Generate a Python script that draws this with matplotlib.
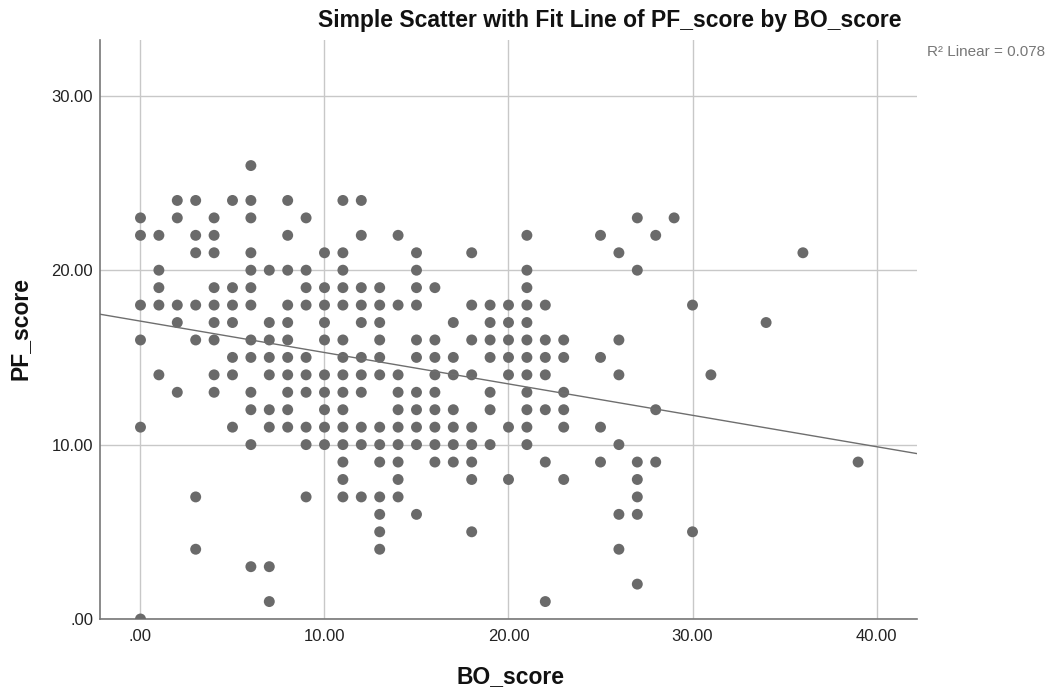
import numpy as np
import matplotlib
matplotlib.use("Agg")
from matplotlib import pyplot as plt

plt.rcParams['font.family'] = ['Liberation Sans', 'DejaVu Sans']

# PF_score values observed for each BO_score
bo_pf = {
    0: [23, 22, 18, 16, 11, 0],
    1: [22, 20, 19, 18, 14],
    2: [24, 23, 18, 17, 13],
    3: [24, 22, 21, 18, 16, 7, 4],
    4: [23, 22, 21, 19, 18, 17, 16, 14, 13],
    5: [24, 19, 18, 17, 15, 14, 11],
    6: [26, 24, 23, 21, 20, 19, 18, 16, 15, 13, 12, 10, 3],
    7: [20, 17, 16, 15, 14, 12, 11, 3, 1],
    8: [24, 22, 20, 18, 17, 16, 15, 14, 13, 12, 11],
    9: [23, 20, 19, 18, 15, 14, 13, 11, 10, 7],
    10: [21, 19, 18, 17, 16, 14, 13, 12, 11, 10],
    11: [24, 21, 20, 19, 18, 16, 15, 14, 13, 12, 11, 10, 9, 8, 7],
    12: [24, 22, 19, 18, 17, 15, 14, 13, 11, 10, 7],
    13: [19, 18, 17, 16, 15, 14, 11, 10, 9, 7, 6, 5, 4],
    14: [22, 18, 14, 13, 12, 11, 10, 9, 8, 7],
    15: [21, 20, 19, 18, 16, 15, 13, 12, 11, 10, 6],
    16: [19, 16, 15, 14, 13, 12, 11, 10, 9],
    17: [17, 15, 14, 12, 11, 10, 9],
    18: [21, 18, 16, 14, 11, 10, 9, 8, 5],
    19: [18, 17, 16, 15, 13, 12, 10],
    20: [18, 17, 16, 15, 14, 11, 8],
    21: [22, 20, 19, 18, 17, 16, 15, 14, 13, 12, 11, 10],
    22: [18, 16, 15, 14, 12, 9, 1],
    23: [16, 15, 13, 12, 11, 8],
    25: [22, 15, 11, 9],
    26: [21, 16, 14, 10, 6, 4],
    27: [23, 20, 9, 8, 7, 6, 2],
    28: [22, 12, 9],
    29: [23],
    30: [18, 5],
    31: [14],
    34: [17],
    36: [21],
    39: [9],
}

# fit line
fit_intercept = 17.08
fit_slope = -0.18
r2_text = "R\u00b2 Linear = 0.078"

x_ticks = [0, 10, 20, 30, 40]
y_ticks = [0, 10, 20, 30]


def fmt(v):
    return ".00" if v == 0 else "%.2f" % v


bo = []
pf = []
for k, vals in bo_pf.items():
    for v in vals:
        bo.append(k)
        pf.append(v)

fig = plt.figure(figsize=(10.49, 6.94), dpi=100)
ax = fig.add_axes([100 / 1049, 1 - 619 / 694, 817 / 1049, 579 / 694])

ax.set_xlim(-2.2, 42.2)
ax.set_ylim(0, 33.2)
ax.grid(True, color='#c8c8c8', linewidth=1.0)
ax.set_axisbelow(True)

ax.scatter(bo, pf, s=62, color='#6a6a6a', edgecolors='none', zorder=3, clip_on=True)

xs = np.array(ax.get_xlim())
ax.plot(xs, fit_intercept + fit_slope * xs, color='#6e6e6e', linewidth=1.0, zorder=4)

ax.set_xticks(x_ticks)
ax.set_xticklabels([fmt(v) for v in x_ticks])
ax.set_yticks(y_ticks)
ax.set_yticklabels([fmt(v) for v in y_ticks])
ax.tick_params(axis='both', labelsize=12, colors='#222222', length=0)
ax.tick_params(axis='y', pad=5)
ax.tick_params(axis='x', pad=7)

for side in ['top', 'right']:
    ax.spines[side].set_visible(False)
for side in ['left', 'bottom']:
    ax.spines[side].set_color('#777777')
    ax.spines[side].set_linewidth(1.2)

fig.text(610 / 1049, 1 - 20 / 694, "Simple Scatter with Fit Line of PF_score by BO_score",
         ha='center', va='center', fontsize=16.5, fontweight='bold', color='#111111')
fig.text(510 / 1049, 1 - 677 / 694, "BO_score", ha='center', va='center',
         fontsize=16.5, fontweight='bold', color='#111111')
fig.text(20 / 1049, 1 - 328 / 694, "PF_score", ha='center', va='center', rotation=90,
         fontsize=16.5, fontweight='bold', color='#111111')
fig.text(1045 / 1049, 1 - 52 / 694, r2_text, ha='right', va='center',
         fontsize=11, color='#777777')

fig.savefig("out.png", dpi=100)
